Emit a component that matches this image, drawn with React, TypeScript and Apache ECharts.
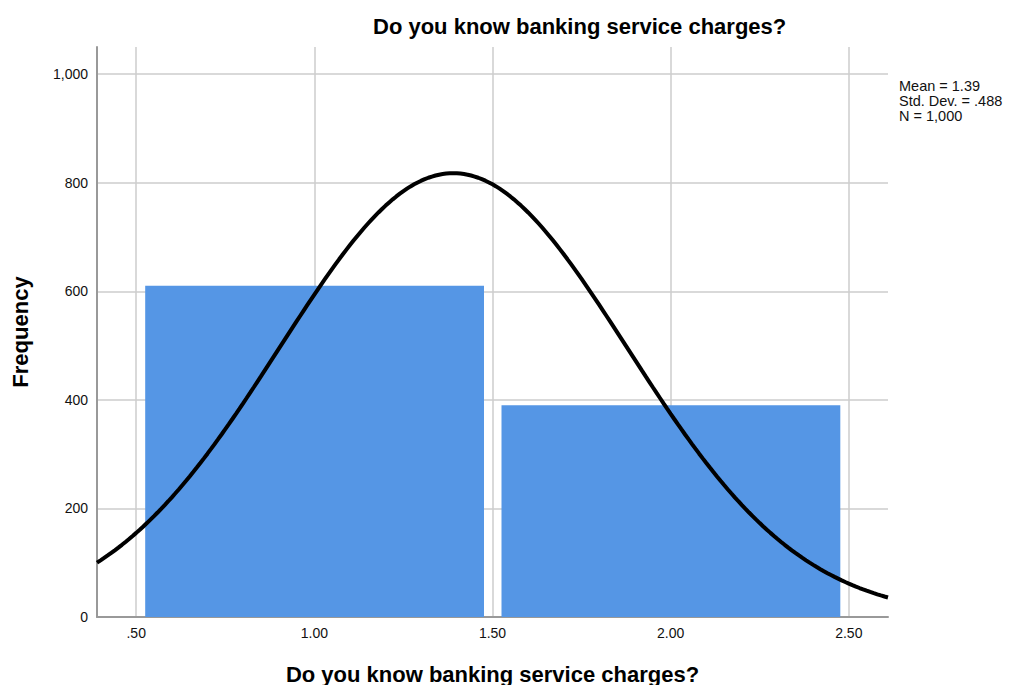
import React, { useEffect, useRef } from "react";
import * as echarts from "echarts";

const TITLE = "Do you know banking service charges?";
const X_NAME = "Do you know banking service charges?";
const Y_NAME = "Frequency";
const binStarts = [0.5, 1.5];
const binEnds = [1.5, 2.5];
const frequencies = [610, 390];
const xTicks = [0.5, 1.0, 1.5, 2.0, 2.5];
const yTicks = [0, 200, 400, 600, 800, 1000];
const MEAN = 1.39;
const SD = 0.488;
const N = 1000;
const BIN_WIDTH = 1;
const statsLines = ["Mean = 1.39", "Std. Dev. = .488", "N = 1,000"];
const X_MIN = 0.39;
const X_MAX = 2.61;
const Y_MAX = 1050;

const FONT = "'Liberation Sans', Arial, sans-serif";

export default function App() {
  const ref = useRef<HTMLDivElement>(null);
  useEffect(() => {
    if (!ref.current) return;
    const chart = echarts.init(ref.current, undefined, { renderer: "svg" });

    // Fitted normal curve from the displayed mean / std. dev. / N
    const curve: number[][] = [];
    const steps = 222;
    for (let i = 0; i <= steps; i++) {
      const x = X_MIN + ((X_MAX - X_MIN) * i) / steps;
      const z = (x - MEAN) / SD;
      const y = (N * BIN_WIDTH * Math.exp(-0.5 * z * z)) / (SD * Math.sqrt(2 * Math.PI));
      curve.push([x, y]);
    }
    const bins = binStarts.map((s, i) => [s, binEnds[i], frequencies[i]]);

    chart.setOption({
      animation: false,
      textStyle: { fontFamily: FONT },
      title: {
        text: TITLE,
        left: 373,
        top: 15,
        padding: 0,
        textStyle: { fontFamily: FONT, fontSize: 22, fontWeight: "bold", color: "#000" },
      },
      grid: {
        left: 97,
        right: 121,
        top: 47,
        bottom: 68,
        containLabel: false,
        outerBoundsMode: "none",
      },
      xAxis: {
        type: "value",
        min: X_MIN,
        max: X_MAX,
        name: X_NAME,
        nameLocation: "middle",
        nameGap: 46,
        nameTextStyle: { fontFamily: FONT, fontSize: 22, fontWeight: "bold", color: "#000" },
        axisLine: { show: true, lineStyle: { color: "#999", width: 2 } },
        axisTick: { show: false, customValues: xTicks },
        axisLabel: {
          customValues: xTicks,
          margin: 9,
          fontFamily: FONT,
          fontSize: 14,
          color: "#111",
          formatter: (v: number) => v.toFixed(2).replace(/^0/, ""),
        },
        splitLine: { show: true, lineStyle: { color: "#cccccc", width: 1.5 } },
      },
      yAxis: {
        type: "value",
        min: 0,
        max: Y_MAX,
        name: Y_NAME,
        nameLocation: "middle",
        nameGap: 66,
        nameTextStyle: { fontFamily: FONT, fontSize: 22, fontWeight: "bold", color: "#000" },
        axisLine: { show: true, lineStyle: { color: "#999", width: 2 } },
        axisTick: { show: false, customValues: yTicks },
        axisLabel: {
          customValues: yTicks,
          margin: 9,
          fontFamily: FONT,
          fontSize: 14,
          color: "#111",
          formatter: (v: number) => v.toLocaleString("en-US"),
        },
        splitLine: { show: true, lineStyle: { color: "#cccccc", width: 1.5 } },
      },
      graphic: [
        {
          type: "text",
          left: 899,
          top: 78,
          style: {
            text: statsLines.join("\n"),
            fontFamily: FONT,
            fontSize: 14.5,
            lineHeight: 15,
            fill: "#111",
          },
        },
      ],
      series: [
        {
          type: "custom",
          data: bins,
          encode: { x: [0, 1], y: 2 },
          z: 2,
          renderItem: (params: any, api: any) => {
            const x0 = api.value(0);
            const x1 = api.value(1);
            const y = api.value(2);
            const p0 = api.coord([x0, y]);
            const p1 = api.coord([x1, 0]);
            const insetL = 9;
            const insetR = 8.5;
            return {
              type: "rect",
              shape: {
                x: p0[0] + insetL,
                y: p0[1],
                width: p1[0] - p0[0] - insetL - insetR,
                height: p1[1] - p0[1],
              },
              style: { fill: "#5596e5" },
            };
          },
        },
        {
          type: "line",
          data: curve,
          showSymbol: false,
          smooth: false,
          z: 3,
          lineStyle: { color: "#000", width: 4 },
        },
      ],
    });
    return () => chart.dispose();
  }, []);
  return (
    <div
      ref={ref}
      style={{ position: "absolute", left: 0, top: 0, width: 1009, height: 685 }}
    />
  );
}
